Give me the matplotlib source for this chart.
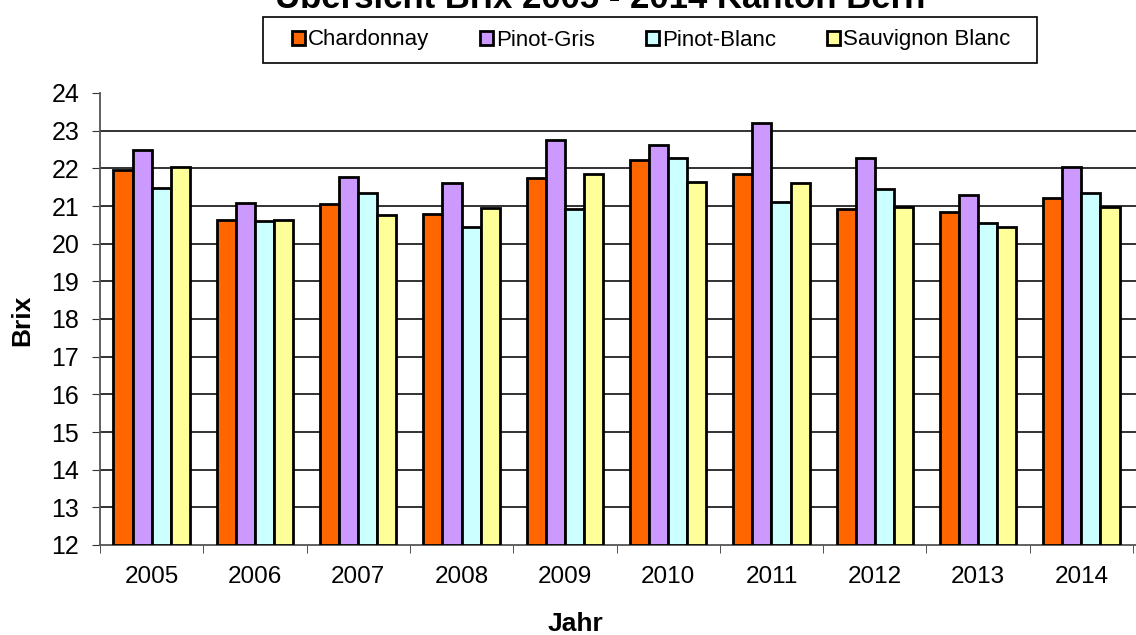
import matplotlib.pyplot as plt
from matplotlib.patches import Rectangle
import numpy as np

plt.rcParams['font.family'] = ['Liberation Sans', 'DejaVu Sans']

years = ["2005", "2006", "2007", "2008", "2009", "2010", "2011", "2012", "2013", "2014"]
chardonnay = [21.96, 20.63, 21.05, 20.78, 21.74, 22.22, 21.84, 20.91, 20.84, 21.22]
pinot_gris = [22.50, 21.09, 21.78, 21.60, 22.75, 22.63, 23.20, 22.28, 21.29, 22.04]
pinot_blanc = [21.49, 20.61, 21.35, 20.43, 20.91, 22.28, 21.10, 21.44, 20.56, 21.35]
sauvignon = [22.04, 20.63, 20.77, 20.96, 21.84, 21.65, 21.60, 20.97, 20.43, 20.97]

series = [("Chardonnay", chardonnay, "#FF6600"),
          ("Pinot-Gris", pinot_gris, "#CC99FF"),
          ("Pinot-Blanc", pinot_blanc, "#CCFFFF"),
          ("Sauvignon Blanc", sauvignon, "#FFFF99")]

W, H = 1136, 635
fig = plt.figure(figsize=(W / 100, H / 100), dpi=100)
ax = fig.add_axes([100 / W, 1 - 545 / H, 1036 / W, (545 - 93) / H])

x = np.arange(len(years))
bw = 0.185
for i, (name, vals, col) in enumerate(series):
    ax.bar(x + (i - 1.5) * bw, np.array(vals) - 12, bottom=12, width=bw,
           color=col, edgecolor="black", linewidth=2, label=name, zorder=3)

ax.set_ylim(12, 24)
ax.set_xlim(-0.5, 9.5 + 3 / 103.9)
ax.set_yticks(range(12, 25))
ax.set_xticks(x)
ax.set_xticklabels(years)
ax.set_xticks(np.arange(-0.5, 10, 1), minor=True)
ax.tick_params(axis="x", which="major", length=0, pad=15, labelsize=17.5)
ax.tick_params(axis="x", which="minor", length=6, direction="out", color="#333333")
ax.tick_params(axis="y", length=6, direction="out", pad=9, labelsize=18, color="#333333")
for yv in range(13, 24):
    ax.axhline(yv, color="#222222", linewidth=1.3, zorder=1)
for s in ["top", "right"]:
    ax.spines[s].set_visible(False)
ax.spines["left"].set_color("#555555")
ax.spines["bottom"].set_color("#555555")
ax.spines["left"].set_linewidth(1.3)
ax.spines["bottom"].set_linewidth(1.3)

fig.text(22 / W, 1 - 320 / H, "Brix", rotation=90, ha="center", va="center",
         fontsize=19, fontweight="bold")
fig.text(575 / W, 1 - 624 / H, "Jahr", ha="center", va="center",
         fontsize=19, fontweight="bold")
fig.text(600 / W, 1 - 8 / H, "Übersicht Brix 2005 - 2014 Kanton Bern",
         ha="center", va="baseline", fontsize=25, fontweight="bold")

# legend box drawn separately so its size matches the original
fig.patches.append(Rectangle((263 / W, 1 - 63 / H), 774 / W, 46 / H,
                             transform=fig.transFigure, fill=False,
                             edgecolor="black", linewidth=1.2))
fig.legend(loc="center", bbox_to_anchor=(651 / W, 1 - 40 / H), ncol=4,
           fontsize=16, handlelength=0.6, handleheight=0.6, handletextpad=0.12,
           columnspacing=2.3, frameon=False, borderaxespad=0)

fig.savefig("out.png", dpi=100)
